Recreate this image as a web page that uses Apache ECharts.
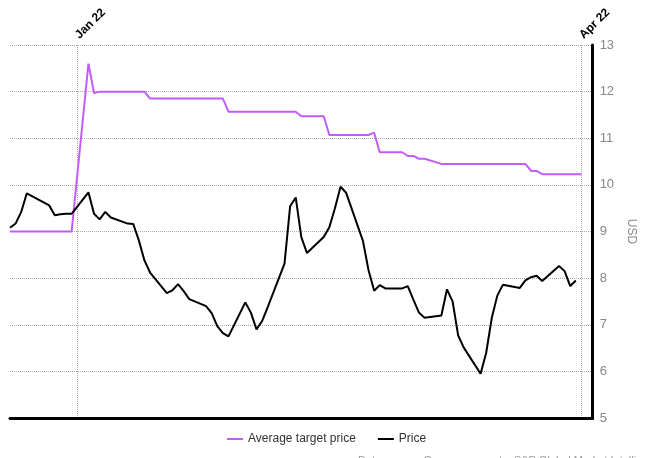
<!DOCTYPE html>
<html>
<head>
<meta charset="utf-8">
<script src="https://cdn.jsdelivr.net/npm/echarts@6/dist/echarts.min.js"></script>
<style>html,body{margin:0;padding:0;background:#fff}#c{width:645px;height:458px}</style>
</head>
<body>
<div id="c"></div>
<script>
var priceDates = ['2021-12-20','2021-12-21','2021-12-22','2021-12-23','2021-12-27','2021-12-28','2021-12-29','2021-12-30','2021-12-31',
'2022-01-03','2022-01-04','2022-01-05','2022-01-06','2022-01-07','2022-01-10','2022-01-11','2022-01-12','2022-01-13','2022-01-14',
'2022-01-17','2022-01-18','2022-01-19','2022-01-20','2022-01-21','2022-01-24','2022-01-25','2022-01-26','2022-01-27','2022-01-28',
'2022-01-31','2022-02-01','2022-02-02','2022-02-03','2022-02-04','2022-02-07','2022-02-08','2022-02-09','2022-02-10','2022-02-11',
'2022-02-14','2022-02-15','2022-02-16','2022-02-17','2022-02-18','2022-02-21','2022-02-22','2022-02-23','2022-02-24','2022-02-25',
'2022-02-28','2022-03-01','2022-03-02','2022-03-03','2022-03-04','2022-03-07','2022-03-08','2022-03-09','2022-03-10','2022-03-11',
'2022-03-14','2022-03-15','2022-03-16','2022-03-17','2022-03-18','2022-03-21','2022-03-22','2022-03-23','2022-03-24','2022-03-25',
'2022-03-28','2022-03-29','2022-03-30','2022-03-31'];
var priceValues = [9.08,9.17,9.42,9.82,9.56,9.35,9.37,9.38,9.38,
9.84,9.38,9.26,9.42,9.30,9.17,9.16,8.81,8.38,8.12,
7.68,7.74,7.87,7.72,7.55,7.40,7.25,6.97,6.82,6.75,
7.48,7.26,6.90,7.08,7.38,8.31,9.54,9.73,8.88,8.54,
8.88,9.09,9.50,9.96,9.83,8.80,8.17,7.73,7.85,7.78,
7.78,7.83,7.54,7.26,7.15,7.20,7.76,7.50,6.77,6.51,
5.95,6.40,7.15,7.63,7.86,7.79,7.95,8.02,8.05,7.94,
8.26,8.15,7.83,7.95];
var targetDates = ['2021-12-20','2021-12-31','2022-01-03','2022-01-04','2022-01-05','2022-01-13','2022-01-14','2022-01-27','2022-01-28',
'2022-02-09','2022-02-10','2022-02-14','2022-02-15','2022-02-22','2022-02-23','2022-02-24','2022-02-28','2022-03-01','2022-03-02',
'2022-03-03','2022-03-04','2022-03-07','2022-03-22','2022-03-23','2022-03-24','2022-03-25','2022-04-01'];
var targetValues = [9.0,9.0,12.6,11.97,12.0,12.0,11.85,11.85,11.57,
11.57,11.47,11.47,11.07,11.07,11.12,10.70,10.70,10.62,10.62,
10.56,10.56,10.45,10.45,10.30,10.30,10.23,10.23];
var xTickDates = ['2022-01-01','2022-04-01'];
var xTickLabels = ['Jan 22','Apr 22'];
var xStart = '2021-12-20', xEnd = '2022-04-03';

var origin = Date.UTC(2022,0,1);
function day(d){var p=d.split('-');return Math.round((Date.UTC(+p[0],+p[1]-1,+p[2])-origin)/86400000);}
var priceData = priceDates.map(function(d,i){return [day(d),priceValues[i]];});
var targetData = targetDates.map(function(d,i){return [day(d),targetValues[i]];});
var tickDays = xTickDates.map(day);
var xmin = day(xStart), xmax = day(xEnd);
var font = 'Liberation Sans, Arial, sans-serif';

var chart = echarts.init(document.getElementById('c'));
chart.setOption({
  animation:false,
  textStyle:{fontFamily:font},
  grid:{left:10,right:47,top:45,bottom:40,containLabel:false},
  legend:{
    bottom:8,left:221,itemWidth:16,itemHeight:2,itemGap:21,
    textStyle:{fontSize:12,color:'#333',fontFamily:font},
    data:['Average target price','Price']
  },
  xAxis:[{
    type:'value',position:'top',min:xmin,max:xmax,
    axisLine:{show:false,onZero:false},axisTick:{show:false,customValues:tickDays},
    axisLabel:{customValues:tickDays,rotate:-45,margin:8,fontWeight:'bold',fontSize:12,color:'#000',
      formatter:function(v){var i=tickDays.indexOf(v);return i>=0?xTickLabels[i]:'';}},
    splitLine:{show:true,lineStyle:{type:'dotted',color:'#aaa',width:1}}
  },{
    type:'value',position:'bottom',min:xmin,max:xmax,
    axisLine:{show:true,onZero:false,lineStyle:{color:'#000',width:3}},
    axisTick:{show:false},axisLabel:{show:false},splitLine:{show:false}
  }],
  yAxis:{
    type:'value',position:'right',min:5,max:13,interval:1,
    name:'USD',nameLocation:'middle',nameRotate:-90,nameGap:28,
    nameTextStyle:{color:'#888',fontSize:12},
    axisLine:{show:true,onZero:false,lineStyle:{color:'#000',width:3}},
    axisTick:{show:false},
    axisLabel:{color:'#888',fontSize:13,margin:7},
    splitLine:{show:true,lineStyle:{type:'dotted',color:'#aaa',width:1}}
  },
  series:[{
    name:'Average target price',type:'line',data:targetData,symbol:'none',
    lineStyle:{color:'#c45cf7',width:2},itemStyle:{color:'#c45cf7'}
  },{
    name:'Price',type:'line',data:priceData,symbol:'none',
    lineStyle:{color:'#000',width:2},itemStyle:{color:'#000'}
  }],
  graphic:[{type:'text',left:358,top:455,style:{text:'Data source: Company reports, S&P Global Market Intelligence',fontSize:11,fill:'#999',fontFamily:font}}]
});
</script>
</body>
</html>
